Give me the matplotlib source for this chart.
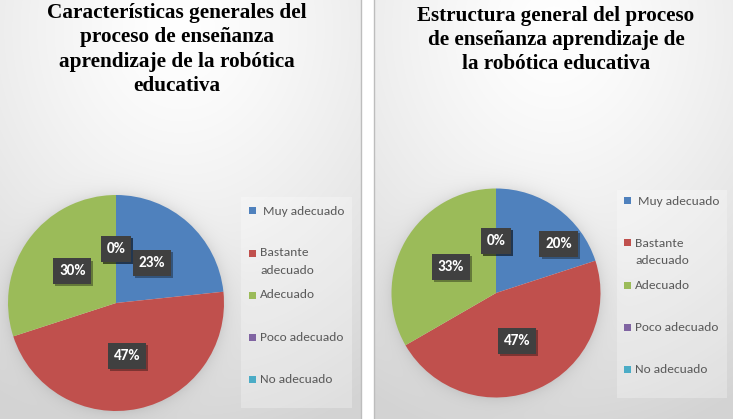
import numpy as np
import matplotlib
matplotlib.use("Agg")
import matplotlib.pyplot as plt
from matplotlib import font_manager as fm
from matplotlib.patches import Rectangle
import matplotlib.patheffects as pe

# ---------------- data ----------------
categories = ["Muy adecuado", "Bastante\nadecuado", "Adecuado", "Poco adecuado", "No adecuado"]
left_values = [7, 14, 9, 0, 0]
right_values = [6, 14, 10, 0, 0]
left_title = ["Características generales del", "proceso de enseñanza",
              "aprendizaje de la robótica", "educativa"]
right_title = ["Estructura general del proceso", "de enseñanza aprendizaje de",
               "la robótica educativa"]
colors = ["#4f81bd", "#c0504d", "#9bbb59", "#8064a2", "#4bacc6"]

# ---------------- fonts ----------------
installed = {f.name for f in fm.fontManager.ttflist}
serif_font = next((n for n in ["Liberation Serif", "Times New Roman", "Tinos",
                               "DejaVu Serif"] if n in installed), "serif")
serif_file = fm.findfont(fm.FontProperties(family=serif_font, weight="bold"))
sans_font = next((n for n in ["Carlito", "Lato", "Open Sans", "DejaVu Sans"] if n in installed),
                 "sans-serif")

# ---------------- figure ----------------
W, H = 733, 419
fig = plt.figure(figsize=(W / 100, H / 100), dpi=100)
renderer = fig.canvas.get_renderer()


def px_axes(x0, y0, w, h):
    return fig.add_axes([x0 / W, 1 - (y0 + h) / H, w / W, h / H])


def fx(x):
    return x / W


def fy(y):
    return 1 - y / H


# pie geometry (pixels, y from top)
pies = [dict(cx=116, cy=303, r=108, x0=-2, x1=361),
        dict(cx=496, cy=293, r=104.5, x0=374, x1=740)]

# background gradient
yy, xx = np.mgrid[0:H, 0:W].astype(float)
img = np.ones((H, W))
for p in pies:
    m = (xx > p["x0"]) & (xx < p["x1"])
    cx = (max(p["x0"], 0) + min(p["x1"], W)) / 2
    d = np.hypot((xx - cx) / (p["x1"] - p["x0"]), (yy - 30) / H)
    v = 1 - 0.17 * np.clip(d / 1.0, 0, 1) ** 1.3
    # soft shadow around the pie
    dc = np.hypot(xx - p["cx"], yy - p["cy"]) - p["r"]
    v = v - 0.07 * np.exp(-np.clip(dc, 0, None) / 7.0) * (dc > -3)
    img[m] = v[m]
rgb = np.dstack([img, img, img])
bg = fig.add_axes([0, 0, 1, 1], zorder=0)
bg.imshow(rgb, aspect="auto", extent=(0, W, H, 0), interpolation="bilinear")
bg.set_xlim(0, W)
bg.set_ylim(H, 0)
bg.axis("off")
# panel borders
for xb in (361, 374):
    bg.plot([xb, xb], [0, H], color="#bdbdbd", lw=1.0)

label_font = dict(family=sans_font, weight="bold", size=11, color="white")


def title_props(size):
    return fm.FontProperties(fname=serif_file, size=size)


def fit_size(text, target_px, base=14.0):
    t = fig.text(0, 0, text, fontproperties=title_props(base))
    w = t.get_window_extent(renderer=renderer).width
    t.remove()
    return base * target_px / w


def draw_pie(p, values, title_lines, title_cx, title_y0, title_w, legend_box, mk_x, tx_x,
             ly0, adj):
    ax = px_axes(p["cx"] - p["r"], p["cy"] - p["r"], 2 * p["r"], 2 * p["r"])
    ax.set_zorder(2)
    wedges, texts, autotexts = ax.pie(
        values, colors=colors, startangle=90, counterclock=False,
        autopct=lambda v: f"{v:.0f}%", pctdistance=0.5,
        wedgeprops=dict(linewidth=0), textprops=label_font)
    ax.set_xlim(-1, 1)
    ax.set_ylim(-1, 1)
    ax.set_aspect("equal")
    for i, t in enumerate(autotexts):
        if i in adj:
            dist, dang = adj[i]
            w = wedges[i]
            ang = np.deg2rad((w.theta1 + w.theta2) / 2 + dang)
            t.set_position((dist * np.cos(ang), dist * np.sin(ang)))
        t.set_bbox(dict(boxstyle="square,pad=0.38", fc="#404040", ec="none"))
        t.get_bbox_patch().set_path_effects([
            pe.withSimplePatchShadow(offset=(1.5, -1.5), shadow_rgbFace="black", alpha=0.35),
            pe.Normal()])
    # title
    tsize = fit_size(title_lines[0], title_w)
    for k, line in enumerate(title_lines):
        fig.text(fx(title_cx), fy(title_y0 + 24.3 * k), line, ha="center", va="baseline",
                 fontproperties=title_props(tsize), color="black", zorder=5)
    # legend box
    bx0, by0, bx1, by1 = legend_box
    fig.patches.append(Rectangle((fx(bx0), fy(by1)), (bx1 - bx0) / W, (by1 - by0) / H,
                                 transform=fig.transFigure, fc="white", alpha=0.28,
                                 ec="none", zorder=1))
    for i, (cat, col) in enumerate(zip(categories, colors)):
        y = ly0 + 42 * i
        fig.patches.append(Rectangle((fx(mk_x), fy(y + 3.5)), 7 / W, 7 / H,
                                     transform=fig.transFigure, fc=col, ec="none", zorder=3))
        for j, line in enumerate(cat.split("\n")):
            fig.text(fx(tx_x + (3 if i == 0 else 0)), fy(y + 17 * j), line, ha="left",
                     va="center", family=sans_font, size=9.6, color="#595959")


draw_pie(pies[0], left_values, left_title, 176.5, 18, 260, (241, 197, 352, 408), 249, 260,
         211, {})
draw_pie(pies[1], right_values, right_title, 556, 20.5, 278, (617, 190, 727, 398), 624, 635,
         201, {0: (0.76, -16)})

fig.savefig("out.png", dpi=100)
